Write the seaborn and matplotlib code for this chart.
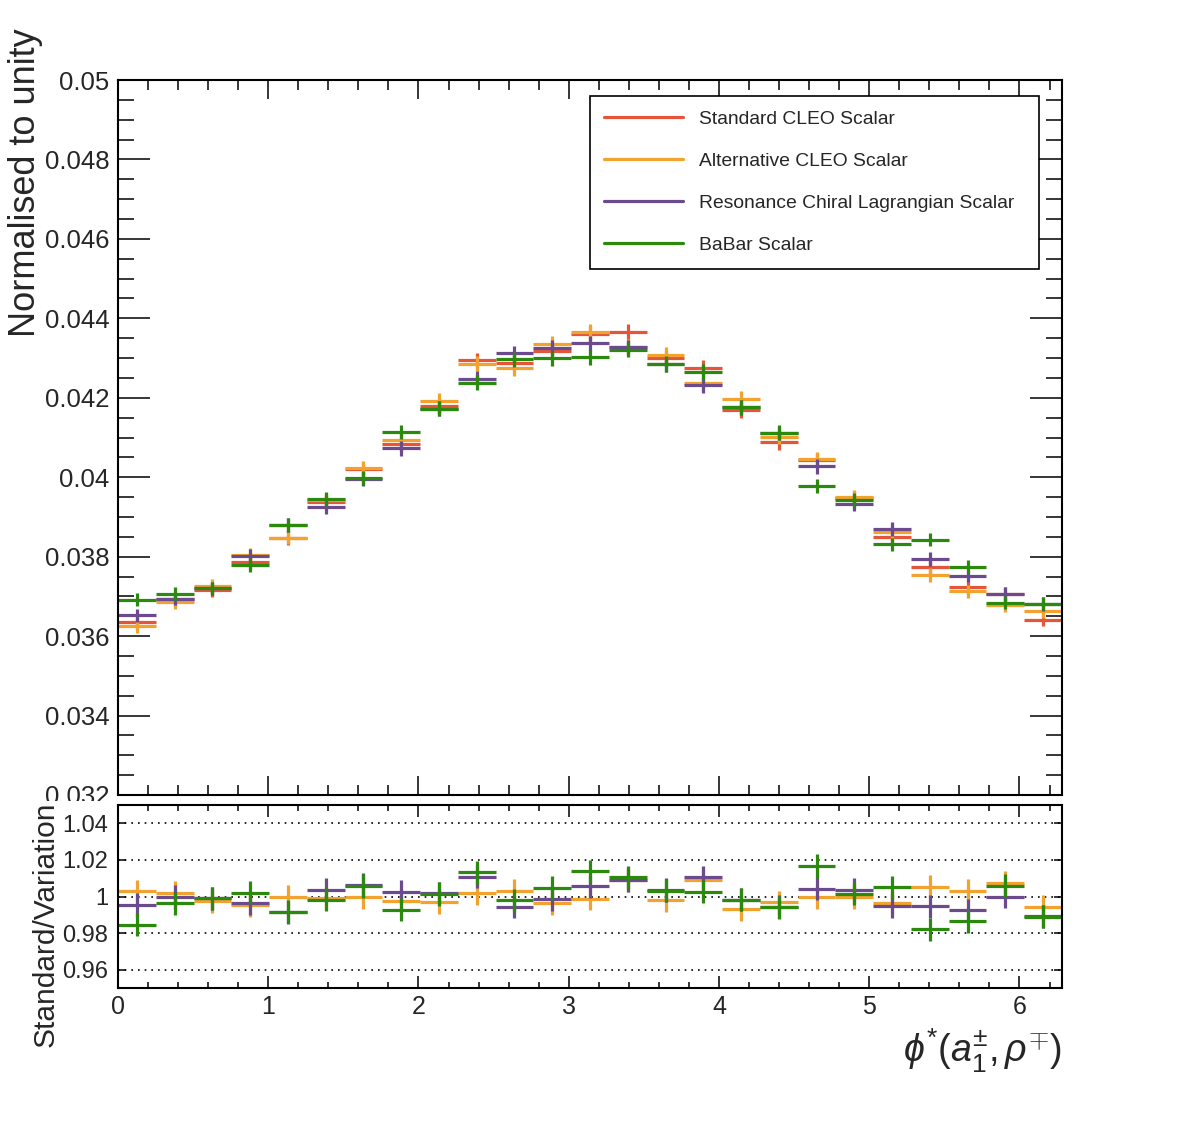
import numpy as np
import matplotlib
matplotlib.use("Agg")
import matplotlib.pyplot as plt
from matplotlib.lines import Line2D
from matplotlib.patches import Rectangle
from matplotlib.ticker import MultipleLocator, FormatStrFormatter
import seaborn as sns

# Style
sns.set_theme(style="ticks")
plt.rcParams['font.family'] = ['Liberation Sans', 'DejaVu Sans']
plt.rcParams['mathtext.fontset'] = 'custom'
plt.rcParams['mathtext.rm'] = 'Liberation Sans'
plt.rcParams['mathtext.it'] = 'Liberation Sans:italic'

# Data, 25 bins over [0, 2pi]
labels = ['Standard CLEO Scalar', 'Alternative CLEO Scalar',
          'Resonance Chiral Lagrangian Scalar', 'BaBar Scalar']
colors = ['#e4553a', '#f2a22e', '#6b4a8e', '#2b8a0e']

standard = [0.03635, 0.03693, 0.03716, 0.03787, 0.03847, 0.03938, 0.04021, 0.04084,
            0.04179, 0.04294, 0.04288, 0.04319, 0.04361, 0.04366, 0.04299, 0.04276,
            0.04169, 0.04088, 0.04044, 0.03948, 0.03850, 0.03774, 0.03724, 0.03706,
            0.03641]
alternative = [0.03625, 0.03685, 0.03726, 0.03805, 0.03848, 0.03942, 0.04022, 0.04093,
               0.04192, 0.04286, 0.04275, 0.04335, 0.04366, 0.04328, 0.04308, 0.04238,
               0.04198, 0.04101, 0.04046, 0.03950, 0.03863, 0.03754, 0.03713, 0.03678,
               0.03662]
rchl = [0.03652, 0.03694, 0.03720, 0.03801, 0.03880, 0.03924, 0.03996, 0.04073,
        0.04172, 0.04248, 0.04312, 0.04326, 0.04337, 0.04327, 0.04284, 0.04232,
        0.04176, 0.04111, 0.04027, 0.03933, 0.03870, 0.03794, 0.03752, 0.03706,
        0.03681]
babar = [0.03692, 0.03707, 0.03720, 0.03779, 0.03879, 0.03945, 0.03998, 0.04114,
         0.04173, 0.04238, 0.04297, 0.04299, 0.04302, 0.04321, 0.04285, 0.04265,
         0.04176, 0.04112, 0.03978, 0.03942, 0.03831, 0.03843, 0.03775, 0.03684,
         0.03682]
REL_ERR = 0.0045  # relative statistical uncertainty per bin

series = [np.array(standard), np.array(alternative), np.array(rchl), np.array(babar)]

edges = np.linspace(0, 2 * np.pi, len(standard) + 1)
centers = 0.5 * (edges[:-1] + edges[1:])
halfw = 0.5 * (edges[1:] - edges[:-1])

W, H = 1182, 1146
fig = plt.figure(figsize=(W / 100, H / 100), dpi=100)
ax1 = fig.add_axes([118 / W, 1 - 795 / H, 944 / W, 715 / H])
ax2 = fig.add_axes([118 / W, 1 - 988 / H, 944 / W, 183 / H])
ax1.set_zorder(0)
ax2.set_zorder(2)

# white pad covering lower part of the main panel labels (like a ROOT pad)
fig.patches.append(Rectangle((0, 0), 1, 1 - 801 / H, transform=fig.transFigure,
                             facecolor='white', edgecolor='none', zorder=1))

lw = 2.3
# A. main distributions
for vals, c in zip(series, colors):
    ax1.errorbar(centers, vals, xerr=halfw, yerr=vals * REL_ERR, fmt='none',
                 ecolor=c, elinewidth=lw, capsize=0)

ax1.set_xlim(0, 2 * np.pi)
ax1.set_ylim(0.032, 0.05)
ax1.yaxis.set_major_locator(MultipleLocator(0.002))
ax1.yaxis.set_minor_locator(MultipleLocator(0.0005))
ax1.yaxis.set_major_formatter(FormatStrFormatter('%g'))
ax1.xaxis.set_major_locator(MultipleLocator(1))
ax1.xaxis.set_minor_locator(MultipleLocator(0.2))
ax1.tick_params(axis='both', which='both', direction='in', top=True, right=True,
                width=1.1, color='black')
ax1.tick_params(axis='y', which='major', length=23, labelsize=18.5, pad=6)
ax1.tick_params(axis='y', which='minor', length=11.5)
ax1.tick_params(axis='x', which='major', length=13.7, labelbottom=False)
ax1.tick_params(axis='x', which='minor', length=7.2)
for s in ax1.spines.values():
    s.set_linewidth(1.5)
    s.set_color('black')

fig.text(26 / W, 1 - 28 / H, 'Normalised to unity', rotation=90, ha='center',
         va='top', fontsize=26)

handles = [Line2D([], [], color=c, lw=lw) for c in colors]
leg = fig.legend(handles, labels, loc='upper left', mode='expand',
                 bbox_to_anchor=(590 / W, 1 - 265 / H, 449 / W, 169 / H),
                 borderaxespad=0, fontsize=13.9, frameon=True, fancybox=False,
                 borderpad=0.75, handlelength=4.06, handletextpad=0.83,
                 labelspacing=1.27)
leg.get_frame().set_edgecolor('black')
leg.get_frame().set_linewidth(1.2)
leg.get_frame().set_alpha(1)

# B. ratio panel: Standard / Variation
ref = series[0]
for vals, c in zip(series[1:], colors[1:]):
    ratio = ref / vals
    ax2.errorbar(centers, ratio, xerr=halfw, yerr=ratio * np.sqrt(2) * REL_ERR,
                 fmt='none', ecolor=c, elinewidth=lw, capsize=0)

for g in [0.96, 0.98, 1.0, 1.02, 1.04]:
    ax2.axhline(g, color='black', lw=1.2, ls=(0, (1, 3)), zorder=0)

ax2.set_xlim(0, 2 * np.pi)
ax2.set_ylim(0.95, 1.05)
ax2.set_yticks([0.96, 0.98, 1.0, 1.02, 1.04])
ax2.yaxis.set_major_formatter(FormatStrFormatter('%g'))
ax2.xaxis.set_major_locator(MultipleLocator(1))
ax2.xaxis.set_minor_locator(MultipleLocator(0.2))
ax2.tick_params(axis='both', which='both', direction='in', top=True, right=True,
                width=1.1, color='black')
ax2.tick_params(axis='y', which='major', length=6, labelsize=17, pad=7)
ax2.tick_params(axis='x', which='major', length=8.6, labelsize=18, pad=5)
ax2.tick_params(axis='x', which='minor', length=4.3)
for s in ax2.spines.values():
    s.set_linewidth(1.5)
    s.set_color('black')

ax2.set_ylabel('Standard/Variation', fontsize=21.5, loc='top')
ax2.yaxis.set_label_coords(-0.062, 1.02)
ax2.set_xlabel(r'$\phi^{*}(a_{1}^{\pm},\rho^{\mp})$', fontsize=27, loc='right',
               labelpad=6)

fig.savefig('out.png', dpi=100, facecolor='white')
